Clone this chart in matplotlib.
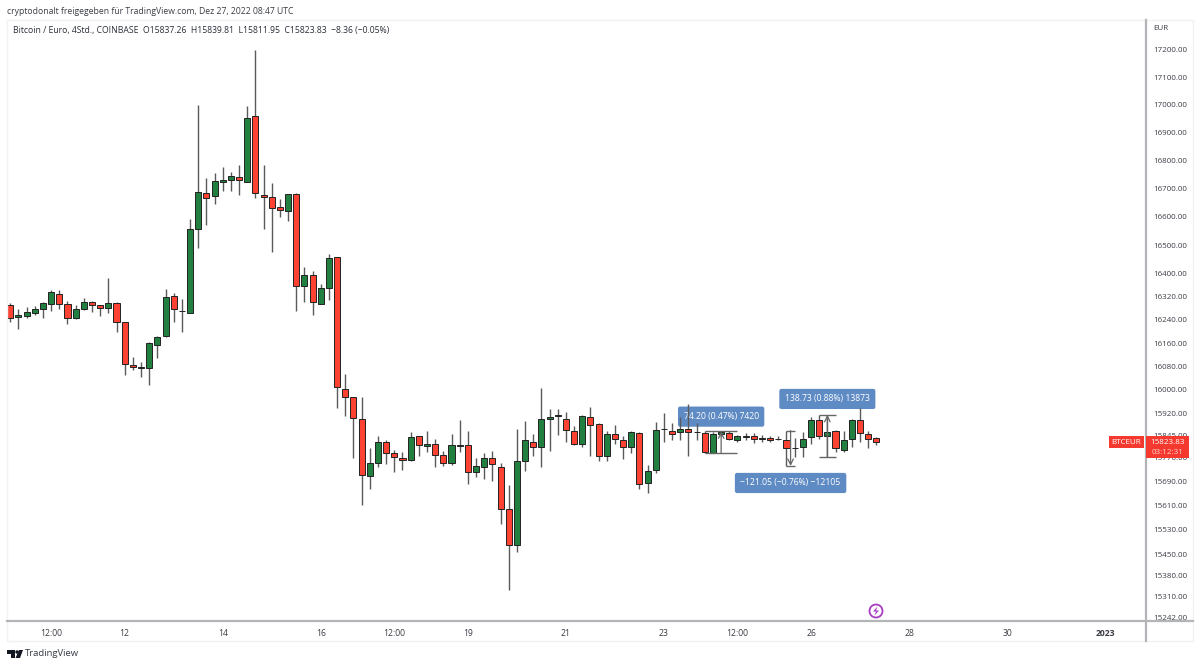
import matplotlib
matplotlib.use('Agg')
import matplotlib.pyplot as plt
from matplotlib.patches import Rectangle, Polygon, Circle
import numpy as np

# 4h candles, EUR
opens = [16292,16249,16255,16265,16277,16295,16330,16295,16247,16277,16303,16291,16280,16299,16232,16084,16077,16075,16153,16186,
         16322,16269,16265,16558,16685,16672,16725,16732,16742,16725,16960,16679,16670,16634,16622,16682,16357,16395,16296,16352,
         16458,16004,15974,15902,15710,15754,15823,15785,15771,15763,15842,15810,15818,15779,15752,15814,15813,15722,15740,15770,
         15739,15598,15481,15759,15823,15806,15901,15911,15902,15859,15816,15908,15885,15775,15850,15830,15807,15854,15687,15729,
         15866,15862,15857,15867,15857,15853,15788,15850,15854,15831,15842,15842,15836,15838,15833,15831,15803,15805,15840,15897,
         15842,15859,15795,15834,15898,15852,15837.26]
highs = [16297,16277,16286,16289,16303,16344,16344,16307,16292,16315,16307,16293,16387,16301,16234,16111,16096,16164,16185,16346,
         16332,16311,16594,17001,16738,16755,16777,16759,16785,16996,17200,16784,16719,16662,16682,16684,16424,16410,16364,16468,
         16460,16055,15977,15977,15803,15842,15831,15797,15791,15858,15844,15859,15834,15794,15852,15896,15860,15771,15788,15794,
         15752,15679,15866,15893,15850,16007,15935,15935,15926,15876,15913,15941,15888,15860,15880,15842,15860,15856,15747,15890,
         15921,15889,15907,15951,15887,15859,15856,15859,15859,15848,15853,15853,15848,15844,15842,15862,15836,15856,15907,15915,
         15915,15865,15859,15901,15938,15859,15839.81]
lows = [16232,16208,16246,16257,16248,16271,16279,16224,16243,16274,16266,16255,16265,16199,16051,16066,16045,16016,16110,16181,
        16231,16199,16263,16490,16571,16646,16690,16693,16677,16722,16666,16557,16475,16601,16586,16269,16301,16257,16294,16309,
        15938,15912,15768,15612,15665,15739,15749,15722,15730,15758,15777,15791,15741,15744,15746,15791,15682,15706,15699,15694,
        15549,15334,15457,15726,15777,15738,15794,15848,15825,15813,15807,15775,15761,15761,15816,15766,15786,15667,15652,15718,
        15825,15829,15831,15777,15829,15788,15786,15843,15829,15823,15831,15820,15825,15823,15829,15743,15774,15772,15816,15834,
        15774,15789,15791,15808,15822,15803,15811.95]
closes = [16248,16256,16266,16277,16297,16336,16295,16246,16277,16303,16291,16280,16299,16234,16087,16078,16074,16161,16182,16318,
          16277,16271,16557,16687,16666,16727,16732,16744,16730,16953,16686,16671,16632,16625,16680,16359,16396,16302,16352,16455,
          16008,15975,15904,15713,15752,15822,15785,15772,15763,15840,15812,15816,15780,15753,15814,15811,15722,15743,15770,15749,
          15600,15481,15758,15829,15805,15901,15908,15913,15864,15816,15911,15881,15777,15852,15832,15806,15856,15683,15725,15865,
          15868,15849,15867,15856,15856,15789,15850,15856,15834,15842,15841,15833,15835,15831,15832,15803,15802,15835,15898,15842,
          15857,15803,15830,15898,15853,15832,15823.83]

y_ticks = [17200,17100,17000,16900,16800,16700,16600,16500,16400,16320,16240,16160,16080,16000,15920,15845,15770,15690,15610,15530,15450,15380,15310,15242]
x_tick_pos = [5,14,26,38,47,56,68,80,89,98,110,122,134]
x_tick_labels = ['12:00','12','14','16','12:00','19','21','23','12:00','26','28','30','2023']

# measuring tools: first bar, last bar, start price, end price, text
tool_a = (85, 89, 15785, 15859, '74.20 (0.47%) 7420')
tool_b = (95, 96, 15862, 15743, '\u2212121.05 (\u22120.76%) \u221212105')
tool_c = (99, 101, 15774, 15915, '138.73 (0.88%) 13873')

UP = '#21803f'
DOWN = '#fc4232'
BLUE = '#5f8bc4'
RED_TAG = '#f5392e'
TXT = '#3a3d45'
AXIS = '#b2b4b8'
FRAME = '#f1f2f4'
FONT = 'Open Sans'
FS = 6.2
FS_PRICE = 5.8

plt.rcParams['font.family'] = [FONT, 'DejaVu Sans']

fig = plt.figure(figsize=(12, 6.67), dpi=100)
W, H = 1200.0, 667.0
ax = fig.add_axes([7/W, 1-621/H, (1146-7)/W, (621-20)/H])
ax.set_yscale('log')
ax.set_xlim(-0.404, 139.0)
ax.set_ylim(15232, 17310)
for s in ax.spines.values():
    s.set_visible(False)

o, h, l, c = map(np.array, (opens, highs, lows, closes))
xs = np.arange(len(o))
cols = [UP if b >= a else DOWN for a, b in zip(o, c)]
ax.vlines(xs, l, h, color='#5a5a5a', lw=1.0, zorder=3)
ax.bar(xs, np.abs(c-o), bottom=np.minimum(o, c), width=0.74, color=cols, edgecolor='#222222', linewidth=0.7, zorder=4)

# y and x axis labels
ax.yaxis.tick_right()
ax.set_yticks(y_ticks)
ax.set_yticklabels(['%.2f' % v for v in y_ticks], fontsize=FS_PRICE, color=TXT)
ax.minorticks_off()
ax.tick_params(axis='y', length=0, pad=5)
ax.set_xticks(x_tick_pos)
ax.set_xticklabels(x_tick_labels, fontsize=FS, color=TXT)
ax.tick_params(axis='x', length=0, pad=5.5)
ax.get_xticklabels()[-1].set_fontweight('bold')


def tool(t, lab_y):
    x0, x1, p0, p1, s = t
    mid = (x0 + x1) / 2.0
    ax.hlines([p0, p1], x0, x1, color='#666666', lw=1.0, zorder=5)
    ax.annotate('', xy=(mid, p1), xytext=(mid, p0), arrowprops=dict(arrowstyle='->', color='#666666', lw=0.9, shrinkA=0, shrinkB=0), zorder=5)
    # the label sits behind the candles, wicks run over it
    ax.text(mid, lab_y, s, ha='center', va='center', fontsize=FS, color='white', zorder=2,
            bbox=dict(boxstyle='round,pad=0.65,rounding_size=0.25', fc=BLUE, ec='none'))


tool(tool_a, 15909)
tool(tool_b, 15686)
tool(tool_c, 15969)

# everything around the plot, in image pixels
ov = fig.add_axes([0, 0, 1, 1])
ov.set_xlim(0, W)
ov.set_ylim(H, 0)
ov.axis('off')
ov.patch.set_alpha(0)

ov.plot([7, 7, 1193, 1193, 7], [20, 641, 641, 20, 20], color=FRAME, lw=1)
ov.plot([7, 1193], [621, 621], color=AXIS, lw=1.6)
ov.plot([1146, 1146], [20, 641], color=AXIS, lw=1.6)

ov.text(7, 11, 'cryptodonalt freigegeben f\u00fcr TradingView.com, Dez 27, 2022 08:47 UTC', fontsize=FS, color=TXT, va='center')
ov.text(13, 31, 'Bitcoin / Euro, 4Std., COINBASE  O15837.26  H15839.81  L15811.95  C15823.83  \u22128.36 (\u22120.05%)', fontsize=FS, color='#2a2e39', va='center')
ov.text(1153, 29, 'EUR', fontsize=FS_PRICE, color=TXT, va='center')

ov.add_patch(Rectangle((1109, 436), 35, 12, fc=RED_TAG, ec='none', zorder=3))
ov.text(1126.5, 442, 'BTCEUR', fontsize=FS_PRICE, color='white', ha='center', va='center', zorder=4)
ov.add_patch(Rectangle((1146, 436), 43, 22, fc=RED_TAG, ec='none', zorder=3))
ov.text(1167.5, 442, '15823.83', fontsize=FS_PRICE, color='white', ha='center', va='center', zorder=4)
ov.text(1167.5, 452, '03:12:31', fontsize=FS_PRICE, color='#ffd5d2', ha='center', va='center', zorder=4)

ov.add_patch(Circle((876, 611), 6.5, fc='white', ec='#a63cc0', lw=1.3))
ov.add_patch(Polygon([(877.5, 606.5), (873, 611.5), (876, 611.5), (874.5, 615.5), (879, 610.5), (876, 610.5)], fc='#a63cc0', ec='none'))

# TradingView logo
ov.add_patch(Polygon([(7, 650), (15, 650), (15, 658), (11, 658), (11, 654), (7, 654)], fc='#131722', ec='none'))
ov.add_patch(Circle((17, 652), 1.7, fc='#131722', ec='none'))
ov.add_patch(Polygon([(19, 650), (23, 650), (20, 658), (15.5, 658)], fc='#131722', ec='none'))
ov.text(24.5, 654, 'TradingView', fontsize=6.8, color='#363a45', va='center')

fig.savefig('out.png', dpi=100)
